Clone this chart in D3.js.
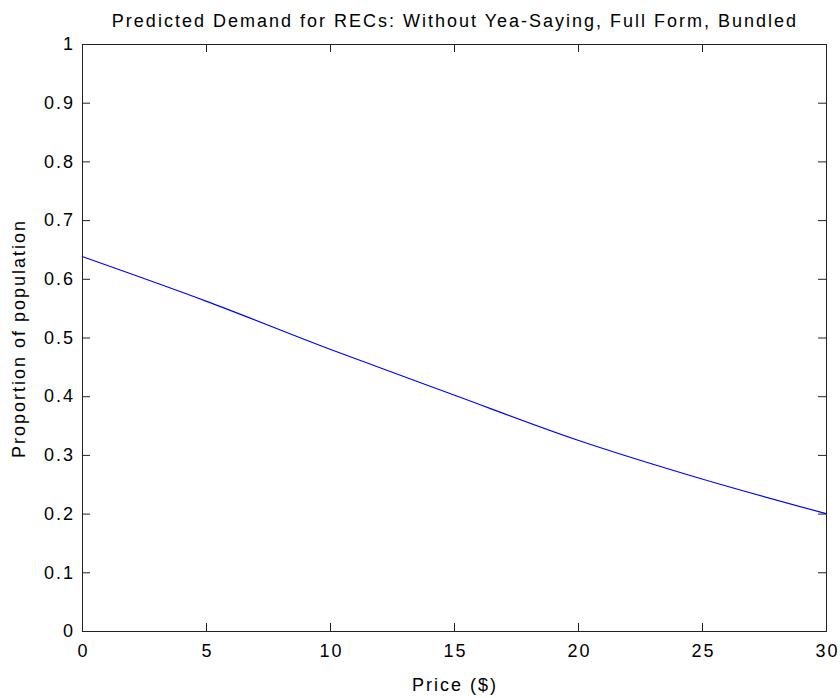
<!DOCTYPE html>
<html>
<head>
<meta charset="utf-8">
<script src="https://cdn.jsdelivr.net/npm/d3@7"></script>
<style>
  body { margin: 0; background: #fff; }
  text { font-family: "Liberation Sans", Arial, sans-serif; fill: #000; }
</style>
</head>
<body>
<div id="chart"></div>
<script>
const width = 840, height = 698;
const margin = {top: 44, right: 14, bottom: 67, left: 82};

// price ($) and predicted proportion
const prices = [0, 5, 10, 15, 20, 25, 30];
const demand = [0.638, 0.562, 0.480, 0.402, 0.325, 0.259, 0.200];

const xTicks = [0, 5, 10, 15, 20, 25, 30];
const yTicks = [0, 0.1, 0.2, 0.3, 0.4, 0.5, 0.6, 0.7, 0.8, 0.9, 1];

const titleText = "Predicted Demand for RECs: Without Yea-Saying, Full Form, Bundled";
const xLabel = "Price ($)";
const yLabel = "Proportion of population";

const fontSize = "18px", spacing = "2px";

const svg = d3.select("#chart").append("svg")
  .attr("width", width).attr("height", height);

const x = d3.scaleLinear().domain([0, 30]).range([margin.left, width - margin.right]);
const y = d3.scaleLinear().domain([0, 1]).range([height - margin.bottom, margin.top]);

const tickLen = 8;
const fmt = d => d3.format("~g")(d);

// bottom axis (ticks pointing inward)
svg.append("g")
  .attr("transform", "translate(0," + y(0) + ")")
  .call(d3.axisBottom(x).tickValues(xTicks).tickFormat(fmt).tickSizeInner(-tickLen).tickSizeOuter(0).tickPadding(13))
  .call(g => g.select(".domain").remove())
  .call(g => g.selectAll(".tick text").attr("dx", "1px"));

// top axis, ticks only
svg.append("g")
  .attr("transform", "translate(0," + y(1) + ")")
  .call(d3.axisTop(x).tickValues(xTicks).tickFormat("").tickSizeInner(-tickLen).tickSizeOuter(0))
  .call(g => g.select(".domain").remove());

// left axis
svg.append("g")
  .attr("transform", "translate(" + x(0) + ",0)")
  .call(d3.axisLeft(y).tickValues(yTicks).tickFormat(fmt).tickSizeInner(-tickLen).tickSizeOuter(0).tickPadding(7))
  .call(g => g.select(".domain").remove());

// right axis, ticks only
svg.append("g")
  .attr("transform", "translate(" + x(30) + ",0)")
  .call(d3.axisRight(y).tickValues(yTicks).tickFormat("").tickSizeInner(-tickLen).tickSizeOuter(0))
  .call(g => g.select(".domain").remove());

svg.selectAll(".tick line").attr("stroke", "#222");
svg.selectAll(".tick text")
  .style("font-size", fontSize)
  .style("letter-spacing", spacing)
  .attr("fill", "#000");

// frame
svg.append("rect")
  .attr("x", x(0) + 0.5).attr("y", y(1) + 0.5)
  .attr("width", x(30) - x(0)).attr("height", y(0) - y(1))
  .attr("fill", "none").attr("stroke", "#222");

const line = d3.line()
  .x((d, i) => x(prices[i]))
  .y(d => y(d))
  .curve(d3.curveMonotoneX);

svg.append("path")
  .datum(demand)
  .attr("d", line)
  .attr("fill", "none")
  .attr("stroke", "#0000ff")
  .attr("stroke-width", 1.2);

svg.append("text")
  .attr("x", (x(0) + x(30)) / 2 + 1).attr("y", 27)
  .attr("text-anchor", "middle")
  .style("font-size", fontSize)
  .style("letter-spacing", spacing)
  .text(titleText);

svg.append("text")
  .attr("x", (x(0) + x(30)) / 2 + 1).attr("y", 691)
  .attr("text-anchor", "middle")
  .style("font-size", fontSize)
  .style("letter-spacing", spacing)
  .text(xLabel);

svg.append("text")
  .attr("transform", "translate(25," + ((y(0) + y(1)) / 2 + 1) + ") rotate(-90)")
  .attr("text-anchor", "middle")
  .style("font-size", fontSize)
  .style("letter-spacing", spacing)
  .text(yLabel);
</script>
</body>
</html>
